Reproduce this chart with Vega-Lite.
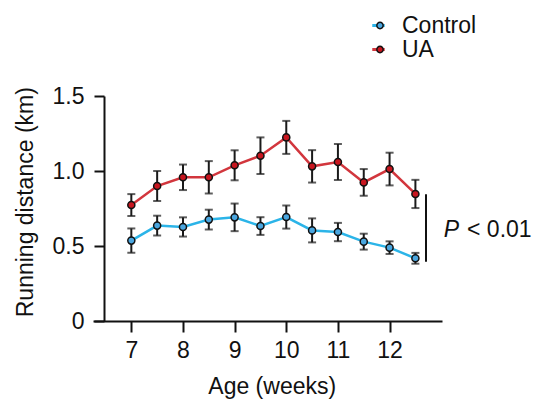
{
  "$schema": "https://vega.github.io/schema/vega-lite/v6.json",
  "autosize": {"type": "none"},
  "width": 349,
  "height": 225,
  "padding": {"left": 93, "top": 96, "right": 92, "bottom": 80},
  "config": {
    "view": {"stroke": null},
    "font": "Liberation Sans",
    "axis": {"grid": false, "domainColor": "#111", "tickColor": "#111", "domainWidth": 2, "tickWidth": 2, "labelColor": "#111", "titleColor": "#111", "labelFontSize": 23, "titleFontSize": 23, "labelFont": "Liberation Sans", "titleFont": "Liberation Sans", "titleFontWeight": "normal"},
    "legend": {"labelFont": "Liberation Sans"}
  },
  "datasets": {
    "main": [
      {"week": 7, "group": "Control", "km": 0.536, "sem": 0.081},
      {"week": 7.5, "group": "Control", "km": 0.636, "sem": 0.066},
      {"week": 8, "group": "Control", "km": 0.627, "sem": 0.064},
      {"week": 8.5, "group": "Control", "km": 0.676, "sem": 0.066},
      {"week": 9, "group": "Control", "km": 0.691, "sem": 0.092},
      {"week": 9.5, "group": "Control", "km": 0.633, "sem": 0.059},
      {"week": 10, "group": "Control", "km": 0.693, "sem": 0.077},
      {"week": 10.5, "group": "Control", "km": 0.604, "sem": 0.08},
      {"week": 11, "group": "Control", "km": 0.593, "sem": 0.061},
      {"week": 11.5, "group": "Control", "km": 0.529, "sem": 0.053},
      {"week": 12, "group": "Control", "km": 0.489, "sem": 0.042},
      {"week": 12.5, "group": "Control", "km": 0.418, "sem": 0.036},
      {"week": 7, "group": "UA", "km": 0.773, "sem": 0.073},
      {"week": 7.5, "group": "UA", "km": 0.9, "sem": 0.1},
      {"week": 8, "group": "UA", "km": 0.958, "sem": 0.085},
      {"week": 8.5, "group": "UA", "km": 0.958, "sem": 0.108},
      {"week": 9, "group": "UA", "km": 1.038, "sem": 0.1},
      {"week": 9.5, "group": "UA", "km": 1.102, "sem": 0.122},
      {"week": 10, "group": "UA", "km": 1.224, "sem": 0.11},
      {"week": 10.5, "group": "UA", "km": 1.031, "sem": 0.108},
      {"week": 11, "group": "UA", "km": 1.06, "sem": 0.12},
      {"week": 11.5, "group": "UA", "km": 0.924, "sem": 0.089},
      {"week": 12, "group": "UA", "km": 1.013, "sem": 0.109},
      {"week": 12.5, "group": "UA", "km": 0.847, "sem": 0.094}
    ],
    "bracket": [{"week": 12.705, "km": 0.845, "km2": 0.395}],
    "ptext": [{"week": 13.047, "km": 0.562, "label": "P"}],
    "ltext": [{"week": 13.5, "km": 0.562, "label": "< 0.01"}]
  },
  "encoding": {
    "x": {
      "field": "week", "type": "quantitative",
      "scale": {"domain": [6.258, 13.015], "nice": false, "zero": false},
      "axis": {"title": "Age (weeks)", "values": [7, 8, 9, 10, 11, 12], "tickSize": 11, "labelPadding": 7, "titleX": 178.7, "titleY": 72.3, "titleBaseline": "alphabetic", "titleAlign": "center"}
    },
    "y": {
      "field": "km", "type": "quantitative",
      "scale": {"domain": [0, 1.5], "nice": false},
      "axis": {"title": "Running distance (km)", "values": [0, 0.5, 1, 1.5], "labelExpr": "datum.value == 0 ? '0' : format(datum.value, '.1f')", "offset": -11, "tickSize": 10, "labelPadding": 10, "titleX": -72, "titleY": 105.7, "titleAngle": -90, "titleBaseline": "alphabetic", "titleAlign": "center"}
    }
  },
  "layer": [
    {
      "data": {"name": "main"},
      "mark": {"type": "errorbar", "ticks": {"size": 8, "thickness": 2, "color": "#1a1a1a"}, "rule": {"strokeWidth": 2, "color": "#1a1a1a"}, "color": "#1a1a1a"},
      "encoding": {"yError": {"field": "sem"}, "detail": {"field": "group"}}
    },
    {
      "data": {"name": "main"},
      "mark": {"type": "line", "strokeWidth": 2.5},
      "encoding": {
        "color": {
          "field": "group", "type": "nominal",
          "scale": {"domain": ["Control", "UA"], "range": ["#2bb4e8", "#d2363d"]},
          "legend": {"title": null, "orient": "none", "legendX": 274, "legendY": -82, "padding": 0, "symbolType": "stroke", "symbolSize": 155, "symbolStrokeWidth": 3, "labelFontSize": 23, "labelOffset": 12, "labelColor": "#111", "rowPadding": 0}
        }
      }
    },
    {
      "data": {"name": "main"},
      "mark": {"type": "circle", "size": 50, "stroke": "#111", "strokeWidth": 1.5, "opacity": 1},
      "encoding": {
        "fill": {
          "field": "group", "type": "nominal",
          "scale": {"domain": ["Control", "UA", "-"], "range": ["#4aa6df", "#c8161f", "#ffffff"]},
          "legend": {"title": null, "values": ["Control", "UA"], "orient": "none", "legendX": 275.5, "legendY": -82, "padding": 0, "symbolType": "circle", "symbolSize": 40, "symbolStrokeColor": "#111", "symbolStrokeWidth": 1.5, "labelFontSize": 23, "labelExpr": "''", "rowPadding": 0}
        }
      }
    },
    {
      "data": {"name": "bracket"},
      "mark": {"type": "rule", "strokeWidth": 2, "color": "#111"},
      "encoding": {"y2": {"field": "km2"}}
    },
    {
      "data": {"name": "ptext"},
      "mark": {"type": "text", "align": "left", "baseline": "alphabetic", "fontSize": 23, "fontStyle": "italic", "color": "#111", "font": "Liberation Sans"},
      "encoding": {"text": {"field": "label"}}
    },
    {
      "data": {"name": "ltext"},
      "mark": {"type": "text", "align": "left", "baseline": "alphabetic", "fontSize": 23, "color": "#111", "font": "Liberation Sans"},
      "encoding": {"text": {"field": "label"}}
    }
  ]
}
